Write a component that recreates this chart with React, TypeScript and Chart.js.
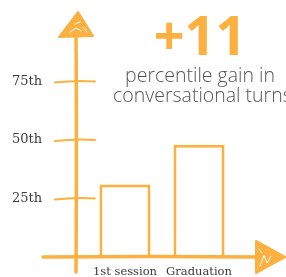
import React, { useEffect, useRef } from "react";
import { Chart, registerables } from "chart.js";

Chart.register(...registerables);

const categories = ["1st session", "Graduation"];
const percentiles = [31, 48];
const tickValues = [25, 50, 75];
const headline = "+11";
const subtitleLines = ["percentile gain in", "conversational turns"];

const ORANGE = "#fbb040";

const sketchPlugin = {
  id: "sketch",
  afterDatasetsDraw(chart: any) {
    const { ctx, chartArea, scales } = chart;
    const y = scales.y;
    const axisX = chartArea.left - 12;
    const baseY = y.getPixelForValue(0);
    ctx.save();
    ctx.strokeStyle = ORANGE;
    ctx.fillStyle = ORANGE;
    ctx.lineCap = "round";
    // y axis
    ctx.lineWidth = 3.5;
    ctx.beginPath();
    ctx.moveTo(axisX, chartArea.top + 12);
    ctx.quadraticCurveTo(axisX + 0.8, (chartArea.top + baseY) / 2, axisX, baseY + 15);
    ctx.stroke();
    // x axis
    ctx.beginPath();
    ctx.moveTo(axisX - 33, baseY);
    ctx.quadraticCurveTo((axisX + chartArea.right) / 2, baseY - 0.8, chartArea.right + 22, baseY);
    ctx.stroke();
    // tick hashes
    ctx.lineWidth = 2;
    tickValues.forEach((v) => {
      const py = y.getPixelForValue(v);
      ctx.beginPath();
      ctx.moveTo(axisX - 21, py + 1);
      ctx.quadraticCurveTo(axisX, py - 1.5, axisX + 19, py);
      ctx.stroke();
    });
    // up arrow
    const ax = axisX + 2;
    const at = chartArea.top - 11;
    ctx.beginPath();
    ctx.moveTo(ax, at);
    ctx.lineTo(ax - 19, at + 25);
    ctx.lineTo(ax + 15, at + 24);
    ctx.closePath();
    ctx.fill();
    ctx.lineJoin = "round";
    ctx.lineWidth = 2;
    ctx.stroke();
    ctx.strokeStyle = "#ffffff";
    ctx.lineWidth = 1;
    ctx.beginPath();
    ctx.moveTo(ax - 3, at + 12);
    ctx.lineTo(ax + 2, at + 10);
    ctx.moveTo(ax - 8, at + 20);
    ctx.lineTo(ax - 2, at + 16);
    ctx.lineTo(ax + 3, at + 19);
    ctx.moveTo(ax + 5, at + 15);
    ctx.lineTo(ax + 9, at + 20);
    ctx.stroke();
    // right arrow
    const rx = chartArea.right + 20;
    ctx.fillStyle = ORANGE;
    ctx.strokeStyle = ORANGE;
    ctx.lineWidth = 2;
    ctx.beginPath();
    ctx.moveTo(rx, baseY - 16);
    ctx.lineTo(rx + 29, baseY);
    ctx.lineTo(rx, baseY + 16);
    ctx.closePath();
    ctx.fill();
    ctx.stroke();
    ctx.strokeStyle = "#ffffff";
    ctx.lineWidth = 1;
    ctx.beginPath();
    ctx.moveTo(rx + 4, baseY + 9);
    ctx.lineTo(rx + 8, baseY - 2);
    ctx.lineTo(rx + 11, baseY + 6);
    ctx.lineTo(rx + 15, baseY - 1);
    ctx.moveTo(rx + 3, baseY - 8);
    ctx.lineTo(rx + 6, baseY - 4);
    ctx.stroke();
    // texts
    ctx.textAlign = "center";
    ctx.textBaseline = "alphabetic";
    ctx.fillStyle = ORANGE;
    ctx.font = "bold 54px 'Open Sans', sans-serif";
    ctx.fillText(headline, 200, 55);
    ctx.fillStyle = "#555555";
    ctx.font = "300 19.5px 'Open Sans', sans-serif";
    ctx.fillText(subtitleLines[0], 200, 82);
    ctx.textAlign = "left";
    ctx.fillText(subtitleLines[1], 113, 102);
    ctx.restore();
  },
};

export default function App() {
  const ref = useRef<HTMLCanvasElement>(null);
  useEffect(() => {
    document.body.style.margin = "0";
    const chart = new Chart(ref.current!, {
      type: "bar",
      data: {
        labels: categories,
        datasets: [
          {
            data: percentiles,
            backgroundColor: "#ffffff",
            borderColor: ORANGE,
            borderWidth: 3,
            barPercentage: 0.69,
            categoryPercentage: 1,
          },
        ],
      },
      options: {
        animation: false,
        responsive: false,
        layout: { padding: { left: 12, right: 50, top: 23, bottom: 0 } },
        plugins: { legend: { display: false }, tooltip: { enabled: false } },
        scales: {
          x: {
            grid: { display: false, drawTicks: false },
            border: { display: false },
            afterFit: (s: any) => {
              s.height = 20;
            },
            ticks: {
              padding: 8,
              maxRotation: 0,
              minRotation: 0,
              autoSkip: false,
              color: "#3a3a3a",
              font: { family: "'DejaVu Serif', serif", size: 11.5 },
            },
          },
          y: {
            min: 0,
            max: 100,
            grid: { display: false, drawTicks: false },
            border: { display: false },
            afterFit: (s: any) => {
              s.width = 76;
            },
            afterBuildTicks: (s: any) => {
              s.ticks = tickValues.map((v) => ({ value: v }));
            },
            ticks: {
              padding: 2,
              crossAlign: "far",
              color: "#3a3a3a",
              font: { family: "'DejaVu Serif', serif", size: 13 },
              callback: (v: any) => v + "th",
            },
          },
        },
      },
      plugins: [sketchPlugin],
    });
    return () => chart.destroy();
  }, []);
  return <canvas ref={ref} width={286} height={277} />;
}
